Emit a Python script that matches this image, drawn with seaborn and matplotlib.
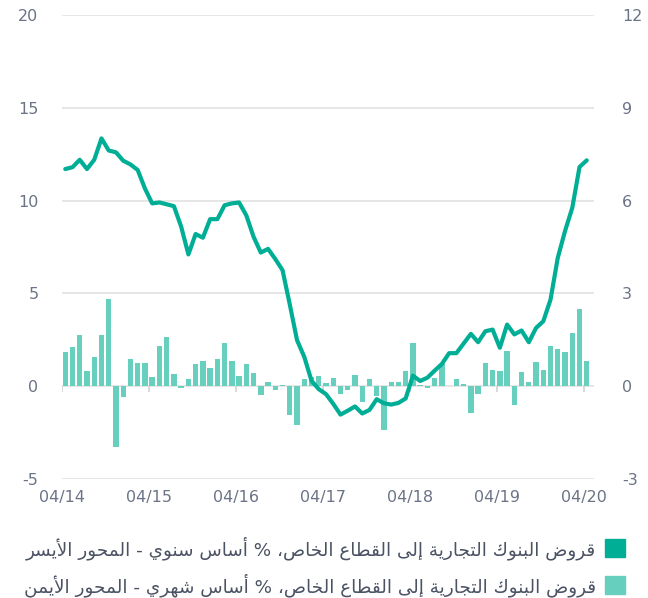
import numpy as np
import matplotlib
matplotlib.use("Agg")
import matplotlib.pyplot as plt
from matplotlib.patches import Rectangle
import seaborn as sns

# monthly data, 04/2014 .. 04/2020
months = np.arange(73)

# y/y growth, left axis
loans_yoy = [11.7, 11.8, 12.2, 11.7, 12.2, 13.35, 12.7, 12.6, 12.15, 11.95, 11.65, 10.65,
             9.85, 9.9, 9.8, 9.7, 8.6, 7.1, 8.2, 8.0, 9.0, 9.0, 9.75, 9.85,
             9.9, 9.2, 8.05, 7.2, 7.4, 6.85, 6.25, 4.4, 2.48, 1.58, 0.29, -0.16,
             -0.43, -0.95, -1.53, -1.32, -1.09, -1.47, -1.28, -0.7, -0.92, -0.99, -0.9, -0.66,
             0.57, 0.28, 0.46, 0.84, 1.2, 1.78, 1.78, 2.3, 2.82, 2.37, 2.96, 3.05,
             2.07, 3.32, 2.79, 3.0, 2.37, 3.14, 3.5, 4.67, 6.92, 8.36, 9.61, 11.81,
             12.17]

# m/m growth, right axis
loans_mom = [1.09, 1.27, 1.64, 0.5, 0.94, 1.64, 2.81, -1.96, -0.34, 0.89, 0.75, 0.75,
             0.3, 1.3, 1.59, 0.38, -0.05, 0.24, 0.71, 0.82, 0.6, 0.89, 1.41, 0.82,
             0.33, 0.71, 0.42, -0.27, 0.13, -0.13, 0.03, -0.92, -1.24, 0.22, 0.3, 0.32,
             0.11, 0.26, -0.24, -0.13, 0.37, -0.51, 0.23, -0.32, -1.42, 0.15, 0.12, 0.48,
             1.4, 0.05, -0.05, 0.27, 0.71, 0.02, 0.23, 0.07, -0.86, -0.25, 0.75, 0.53,
             0.48, 1.15, -0.62, 0.45, 0.12, 0.78, 0.52, 1.29, 1.19, 1.11, 1.73, 2.51,
             0.81]

year_labels = ["04/14", "04/15", "04/16", "04/17", "04/18", "04/19", "04/20"]
left_ticks = [-5, 0, 5, 10, 15, 20]
right_ticks = [-3, 0, 3, 6, 9, 12]

legend_labels = ["قروض البنوك التجارية إلى القطاع الخاص، % أساس سنوي - المحور الأيسر",
                 "قروض البنوك التجارية إلى القطاع الخاص، % أساس شهري - المحور الأيمن"]

dark_teal = "#00ae96"
light_teal = "#66cfbe"
grid_col = "#e6e6e6"
tick_col = "#6b7386"
text_col = "#4b5263"

# matplotlib has no arabic shaping, so do it by hand
FORMS = {
    'ا': ('\uFE8D', '\uFE8E', None, None), 'أ': ('\uFE83', '\uFE84', None, None),
    'إ': ('\uFE87', '\uFE88', None, None), 'ب': ('\uFE8F', '\uFE90', '\uFE91', '\uFE92'),
    'ة': ('\uFE93', '\uFE94', None, None), 'ت': ('\uFE95', '\uFE96', '\uFE97', '\uFE98'),
    'ج': ('\uFE9D', '\uFE9E', '\uFE9F', '\uFEA0'), 'ح': ('\uFEA1', '\uFEA2', '\uFEA3', '\uFEA4'),
    'خ': ('\uFEA5', '\uFEA6', '\uFEA7', '\uFEA8'), 'ر': ('\uFEAD', '\uFEAE', None, None),
    'س': ('\uFEB1', '\uFEB2', '\uFEB3', '\uFEB4'), 'ش': ('\uFEB5', '\uFEB6', '\uFEB7', '\uFEB8'),
    'ص': ('\uFEB9', '\uFEBA', '\uFEBB', '\uFEBC'), 'ض': ('\uFEBD', '\uFEBE', '\uFEBF', '\uFEC0'),
    'ط': ('\uFEC1', '\uFEC2', '\uFEC3', '\uFEC4'), 'ع': ('\uFEC9', '\uFECA', '\uFECB', '\uFECC'),
    'ق': ('\uFED5', '\uFED6', '\uFED7', '\uFED8'), 'ك': ('\uFED9', '\uFEDA', '\uFEDB', '\uFEDC'),
    'ل': ('\uFEDD', '\uFEDE', '\uFEDF', '\uFEE0'), 'م': ('\uFEE1', '\uFEE2', '\uFEE3', '\uFEE4'),
    'ن': ('\uFEE5', '\uFEE6', '\uFEE7', '\uFEE8'), 'ه': ('\uFEE9', '\uFEEA', '\uFEEB', '\uFEEC'),
    'و': ('\uFEED', '\uFEEE', None, None), 'ى': ('\uFEEF', '\uFEF0', None, None),
    'ي': ('\uFEF1', '\uFEF2', '\uFEF3', '\uFEF4'),
}
LAM_ALEF = {'ا': ('\uFEFB', '\uFEFC'), 'أ': ('\uFEF7', '\uFEF8'), 'إ': ('\uFEF9', '\uFEFA')}


def dual(c):
    return c in FORMS and FORMS[c][2] is not None


def shape_ar(s):
    out = []
    i = 0
    while i < len(s):
        c = s[i]
        prev = s[i - 1] if i > 0 else ''
        nxt = s[i + 1] if i + 1 < len(s) else ''
        if c not in FORMS:
            out.append(c)
            i += 1
            continue
        pj = dual(prev)
        if c == 'ل' and nxt in LAM_ALEF:
            out.append(LAM_ALEF[nxt][1 if pj else 0])
            i += 2
            continue
        nj = dual(c) and nxt in FORMS
        iso, fin, ini, med = FORMS[c]
        if pj and nj:
            out.append(med)
        elif pj:
            out.append(fin)
        elif nj:
            out.append(ini)
        else:
            out.append(iso)
        i += 1
    return ''.join(out)[::-1]


sns.set_theme(style="white")
plt.rcParams['font.family'] = ['DejaVu Sans']

fig = plt.figure(figsize=(6.48, 5.98), dpi=100)
ax = fig.add_axes([62 / 648, 119 / 598, 532 / 648, 464 / 598])
ax2 = ax.twinx()
ax.set_zorder(ax2.get_zorder() + 1)
ax.patch.set_visible(False)

sns.barplot(x=months, y=loans_mom, native_scale=True, color=light_teal, width=0.74,
            errorbar=None, saturation=1, linewidth=0, ax=ax2)
sns.lineplot(x=months, y=loans_yoy, color=dark_teal, lw=3.0, ax=ax)

ax.set_xlim(-0.45, 73.0)
ax.set_ylim(-5, 20)
ax2.set_ylim(-3, 12)
ax.set_yticks(left_ticks)
ax2.set_yticks(right_ticks)
ax.set_yticklabels([str(t) for t in left_ticks])
ax2.set_yticklabels([str(t) for t in right_ticks])

year_pos = [12 * k - 0.41 for k in range(len(year_labels))]
ax.set_xticks(year_pos)
ax.set_xticklabels(year_labels)

for a in (ax, ax2):
    for sp in a.spines.values():
        sp.set_visible(False)
    a.set_xlabel("")
    a.set_ylabel("")
    a.tick_params(length=0, labelsize=11.5, labelcolor=tick_col)
ax.tick_params(axis='y', pad=17)
ax2.tick_params(axis='y', pad=20)
ax.tick_params(axis='x', pad=8)

ax2.grid(axis='y', color=grid_col, lw=1.4)
ax2.set_axisbelow(True)
ax.grid(False)

# small year ticks hanging under the zero line
ax.vlines(year_pos, -0.3, 0, color="#d6d6d6", lw=1.3, zorder=1)

for k, lab in enumerate(legend_labels):
    y = 50 / 598 - k * 37 / 598
    fig.patches.append(Rectangle((605 / 648, y - 9 / 598), 20 / 648, 18 / 598,
                                 transform=fig.transFigure, color=[dark_teal, light_teal][k]))
    fig.text(596 / 648, y, shape_ar(lab), ha='right', va='center', fontsize=13.2,
             color=text_col)

fig.savefig("out.png", dpi=100)
